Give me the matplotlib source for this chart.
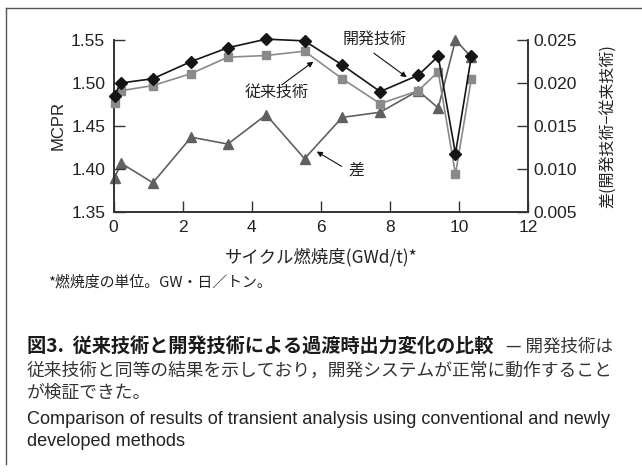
import matplotlib
matplotlib.use("Agg")
import matplotlib.pyplot as plt
from matplotlib.lines import Line2D
from matplotlib.ticker import FormatStrFormatter

plt.rcParams['font.family'] = ['Liberation Sans', 'DejaVu Sans']
JP = ['Noto Sans CJK JP', 'DejaVu Sans']

# data
burnup = [0.03, 0.21, 1.14, 2.25, 3.31, 4.42, 5.53, 6.62, 7.72, 8.82, 9.40, 9.90, 10.36]
mcpr_new = [1.485, 1.500, 1.505, 1.525, 1.541, 1.551, 1.549, 1.521, 1.490, 1.509, 1.531, 1.418, 1.531]
mcpr_old = [1.4765, 1.491, 1.497, 1.511, 1.530, 1.532, 1.537, 1.505, 1.476, 1.491, 1.513, 1.394, 1.505]
diff = [0.0089, 0.0107, 0.0084, 0.0137, 0.0129, 0.0163, 0.0112, 0.0160, 0.0166, 0.0191, 0.0171, 0.0250, 0.0230]

W, H = 642, 472


def fx(px):
    return px / W


def fy(py):
    return 1 - py / H


def fit(txt, width):
    # scale a text's font size so it covers the given pixel width
    fig.canvas.draw()
    w = txt.get_window_extent().width
    txt.set_fontsize(txt.get_fontsize() * width / w)


fig = plt.figure(figsize=(6.42, 4.72), dpi=100)
ax1 = fig.add_axes([fx(113.5), fy(212), fx(528) - fx(113.5), fy(40) - fy(212)])
ax2 = ax1.twinx()

ax1.plot(burnup, mcpr_old, color='#8a8a8a', lw=1.2, marker='s', ms=5.5, mfc='#8a8a8a', mec='#8a8a8a',
         zorder=3, clip_on=False)
ax1.plot(burnup, mcpr_new, color='#151515', lw=1.2, marker='D', ms=5.8, mfc='#151515', mec='#151515',
         zorder=4, clip_on=False)
ax2.plot(burnup, diff, color='#606060', lw=1.2, marker='^', ms=6.5, mfc='#606060', mec='#606060',
         clip_on=False)

ax1.set_xlim(0, 12)
ax1.set_ylim(1.35, 1.55)
ax2.set_ylim(0.005, 0.025)
ax1.set_xticks(range(0, 13, 2))
ax1.set_yticks([1.35, 1.40, 1.45, 1.50, 1.55])
ax2.set_yticks([0.005, 0.010, 0.015, 0.020, 0.025])
ax1.yaxis.set_major_formatter(FormatStrFormatter('%.2f'))
ax2.yaxis.set_major_formatter(FormatStrFormatter('%.3f'))

for a in (ax1, ax2):
    a.spines['top'].set_visible(False)
    for s in a.spines.values():
        s.set_color('#333333')
        s.set_linewidth(1.2)
    a.tick_params(direction='in', length=8, width=1.0, color='#333333',
                  labelsize=12.5, labelcolor='#222222')
ax1.tick_params(axis='y', pad=6)
ax1.tick_params(axis='x', pad=6)
ax2.tick_params(axis='y', pad=4)
ax1.set_zorder(ax2.get_zorder() + 1)
ax1.patch.set_visible(False)

ax1.set_ylabel('MCPR', fontsize=12, color='#222222', labelpad=4)
ax1.set_xlabel('サイクル燃焼度(GWd/t)*', family=JP, fontsize=12.5, color='#222222', labelpad=9)
ax2.set_ylabel('差(開発技術−従来技術)', family=JP, fontsize=11.5, color='#222222', rotation=90, labelpad=16)

arrow = dict(arrowstyle='-|>', color='#111111', lw=0.8, mutation_scale=8, shrinkA=0, shrinkB=0)
ax1.annotate('', xy=(8.49, 1.5067), xytext=(7.54, 1.5346), arrowprops=arrow)
ax1.text(7.55, 1.551, '開発技術', family=JP, fontsize=11.5, ha='center', va='center', color='#222222')
ax1.annotate('', xy=(5.785, 1.5248), xytext=(4.87, 1.4978), arrowprops=arrow)
ax1.text(4.725, 1.4885, '従来技術', family=JP, fontsize=11.5, ha='center', va='center', color='#222222')
ax1.annotate('', xy=(5.883, 1.4203), xytext=(6.607, 1.403), arrowprops=arrow)
ax1.text(7.04, 1.399, '差', family=JP, fontsize=11.5, ha='center', va='center', color='#222222')

# frame around the figure block
fig.add_artist(Line2D([fx(6), 1.0], [fy(8), fy(8)], color='#555555', lw=1.0))
fig.add_artist(Line2D([fx(6), fx(6)], [fy(8), fy(464)], color='#555555', lw=1.0))

note = fig.text(fx(48), fy(282), '*燃焼度の単位。GW・日／トン。', family=JP, fontsize=10.5,
                ha='left', va='center', color='#222222')

title = fig.text(fx(27), fy(347), '図3.  従来技術と開発技術による過渡時出力変化の比較', family=JP,
                 fontsize=12.6, fontweight='bold', ha='left', va='center', color='#1a1a1a')
fig.text(fx(613), fy(347), '— 開発技術は', family=JP, fontsize=12.6,
         ha='right', va='center', color='#333333')
body = fig.text(fx(27), fy(371), '従来技術と同等の結果を示しており，開発システムが正常に動作すること',
                family=JP, fontsize=12.6, ha='left', va='center', color='#333333')
body2 = fig.text(fx(27), fy(393), 'が検証できた。', family=JP, fontsize=12.6,
                 ha='left', va='center', color='#333333')
eng = fig.text(fx(27), fy(419), 'Comparison of results of transient analysis using conventional and newly',
               fontsize=12, ha='left', va='center', color='#222222')
eng2 = fig.text(fx(27), fy(441), 'developed methods', fontsize=12, ha='left', va='center', color='#222222')

fit(note, 225)
fit(title, 468)
fit(body, 586)
body2.set_fontsize(body.get_fontsize())
fit(eng, 586)
eng2.set_fontsize(eng.get_fontsize())

fig.savefig('out.png', dpi=100)
